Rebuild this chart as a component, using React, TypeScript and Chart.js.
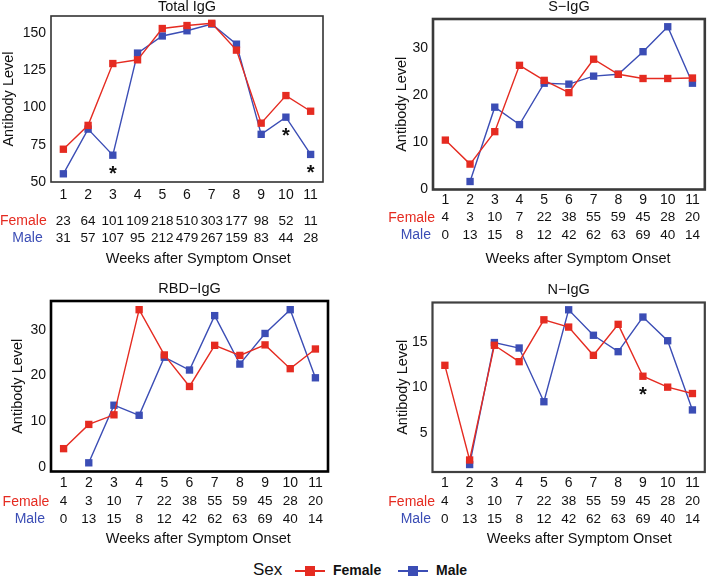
import React, { useEffect, useRef } from "react";
import { Chart, registerables } from "chart.js";

Chart.register(...registerables);

const FONT = '"Liberation Sans", Arial, Helvetica, sans-serif';
const RED = "#E52B21";
const BLUE = "#3B4DB5";

const weeks = ["1", "2", "3", "4", "5", "6", "7", "8", "9", "10", "11"];

// Total IgG
const totalFemale = [72, 88, 129.5, 132, 153, 155, 156.5, 138.5, 89.5, 108, 97.5];
const totalMale = [55.5, 85.5, 68, 136.5, 148, 151.5, 156, 142.5, 82, 93.5, 68.5];
const totalCountFemale = [23, 64, 101, 109, 218, 510, 303, 177, 98, 52, 11];
const totalCountMale = [31, 57, 107, 95, 212, 479, 267, 159, 83, 44, 28];
const totalTicks = [50, 75, 100, 125, 150];
const totalSig = [3, 10, 11];

// S-IgG
const sFemale = [10.5, 5.4, 12.3, 26.4, 23.2, 20.6, 27.7, 24.5, 23.6, 23.6, 23.7];
const sMale = [null, 1.7, 17.5, 13.8, 22.6, 22.4, 24.1, 24.5, 29.3, 34.6, 22.6];
const sTicks = [0, 10, 20, 30];
const sSig: number[] = [];

// RBD-IgG
const rbdFemale = [4.0, 9.3, 11.4, 34.4, 24.5, 17.6, 26.6, 24.4, 26.7, 21.5, 25.8];
const rbdMale = [null, 0.9, 13.5, 11.3, 24.0, 21.2, 33.1, 22.5, 29.2, 34.4, 19.5];
const rbdTicks = [0, 10, 20, 30];
const rbdSig: number[] = [];

// N-IgG
const nFemale = [12.4, 2.0, 14.6, 12.8, 17.4, 16.6, 13.5, 16.9, 11.2, 10.0, 9.3];
const nMale = [null, 1.5, 14.9, 14.3, 8.4, 18.5, 15.7, 13.9, 17.7, 15.1, 7.5];
const nTicks = [5, 10, 15];
const nSig = [9];

// counts shared by S, RBD, N
const subCountFemale = [4, 3, 10, 7, 22, 38, 55, 59, 45, 28, 20];
const subCountMale = [0, 13, 15, 8, 12, 42, 62, 63, 69, 40, 14];

type Panel = {
  key: string;
  title: string;
  female: (number | null)[];
  male: (number | null)[];
  countF: number[];
  countM: number[];
  ticks: number[];
  sig: number[];
  pos: { left: number; top: number; w: number; h: number };
  area: { left: number; right: number; top: number; bottom: number };
  yMin: number;
  yMax: number;
  yTitlePad: number;
  xTickPad: number;
  titleY: number;
  fLabelX: number;
  mLabelX: number;
  fY: number;
  mY: number;
  weeksX: number;
  weeksY: number;
  boxColor: string;
  boxWidth: number;
};

const panels: Panel[] = [
  {
    key: "total", title: "Total IgG", female: totalFemale, male: totalMale,
    countF: totalCountFemale, countM: totalCountMale, ticks: totalTicks, sig: totalSig,
    pos: { left: 0, top: 0, w: 355, h: 270 },
    area: { left: 51, right: 323, top: 16, bottom: 182 },
    yMin: 50, yMax: 161.4, yTitlePad: 0, xTickPad: 5, titleY: 11,
    fLabelX: 46.7, mLabelX: 42.7, fY: 221, mY: 238, weeksX: 198.3, weeksY: 259.3,
    boxColor: "#333333", boxWidth: 1.6,
  },
  {
    key: "s", title: "S\u2212IgG", female: sFemale, male: sMale,
    countF: subCountFemale, countM: subCountMale, ticks: sTicks, sig: sSig,
    pos: { left: 355, top: 0, w: 355, h: 270 },
    area: { left: 78, right: 352.5, top: 19, bottom: 189.5 },
    yMin: 0, yMax: 36.25, yTitlePad: 38, xTickPad: 2.5, titleY: 11,
    fLabelX: 80, mLabelX: 76, fY: 217.7, mY: 235, weeksX: 223, weeksY: 259.3,
    boxColor: "#3a3a3a", boxWidth: 2.6,
  },
  {
    key: "rbd", title: "RBD\u2212IgG", female: rbdFemale, male: rbdMale,
    countF: subCountFemale, countM: subCountMale, ticks: rbdTicks, sig: rbdSig,
    pos: { left: 0, top: 270, w: 355, h: 285 },
    area: { left: 51, right: 328, top: 31, bottom: 201.5 },
    yMin: -1, yMax: 36.3, yTitlePad: 9.4, xTickPad: 2.8, titleY: 22.7,
    fLabelX: 49.3, mLabelX: 45, fY: 231.7, mY: 249, weeksX: 198.3, weeksY: 269,
    boxColor: "#000000", boxWidth: 2.6,
  },
  {
    key: "n", title: "N\u2212IgG", female: nFemale, male: nMale,
    countF: subCountFemale, countM: subCountMale, ticks: nTicks, sig: nSig,
    pos: { left: 355, top: 270, w: 355, h: 285 },
    area: { left: 77.5, right: 351, top: 32.5, bottom: 202 },
    yMin: 0.68, yMax: 19.3, yTitlePad: 39, xTickPad: 2.3, titleY: 24.3,
    fLabelX: 80, mLabelX: 76, fY: 231.7, mY: 249, weeksX: 224.2, weeksY: 269,
    boxColor: "#404040", boxWidth: 2.2,
  },
];

function decorPlugin(p: Panel) {
  return {
    id: "decor_" + p.key,
    beforeDatasetsDraw(chart: any) {
      const { ctx, chartArea: a } = chart;
      ctx.save();
      ctx.strokeStyle = p.boxColor;
      ctx.lineWidth = p.boxWidth;
      ctx.strokeRect(a.left, a.top, a.right - a.left, a.bottom - a.top);
      ctx.restore();
    },
    afterDraw(chart: any) {
      const { ctx, chartArea: a, scales } = chart;
      const xs = scales.x;
      const ys = scales.y;
      ctx.save();
      // title
      ctx.fillStyle = "#111111";
      ctx.font = `14.5px ${FONT}`;
      ctx.textAlign = "center";
      ctx.textBaseline = "alphabetic";
      ctx.fillText(p.title, (a.left + a.right) / 2, p.titleY);
      // row labels
      ctx.font = `14px ${FONT}`;
      ctx.textAlign = "right";
      ctx.textBaseline = "middle";
      ctx.fillStyle = RED;
      ctx.fillText("Female", p.fLabelX, p.fY);
      ctx.fillStyle = BLUE;
      ctx.fillText("Male", p.mLabelX, p.mY);
      // counts
      ctx.fillStyle = "#111111";
      ctx.font = `13.5px ${FONT}`;
      ctx.textAlign = "center";
      weeks.forEach((w, i) => {
        const px = xs.getPixelForValue(i);
        ctx.fillText(String(p.countF[i]), px, p.fY);
        ctx.fillText(String(p.countM[i]), px, p.mY);
      });
      // x title
      ctx.font = `14.5px ${FONT}`;
      ctx.fillText("Weeks after Symptom Onset", p.weeksX, p.weeksY);
      // significance asterisks
      ctx.font = `bold 20px ${FONT}`;
      ctx.textBaseline = "alphabetic";
      p.sig.forEach((wk) => {
        const i = wk - 1;
        const vals = [p.female[i], p.male[i]].filter((v) => v != null) as number[];
        const lowest = Math.min(...vals);
        const py = ys.getPixelForValue(lowest) + 14;
        ctx.fillText("*", xs.getPixelForValue(i), py + 11);
      });
      ctx.restore();
    },
  };
}

function PanelChart({ p }: { p: Panel }) {
  const ref = useRef<HTMLCanvasElement | null>(null);
  useEffect(() => {
    if (!ref.current) return;
    const tickFont = { family: FONT, size: 14 };
    const chart = new Chart(ref.current, {
      type: "line",
      data: {
        labels: weeks,
        datasets: [
          {
            label: "Female",
            data: p.female,
            borderColor: RED,
            backgroundColor: RED,
            borderWidth: 1.4,
            pointStyle: "rect",
            pointRadius: 5.2,
            pointBorderWidth: 0,
            tension: 0,
            clip: false,
          } as any,
          {
            label: "Male",
            data: p.male,
            borderColor: BLUE,
            backgroundColor: BLUE,
            borderWidth: 1.4,
            pointStyle: "rect",
            pointRadius: 5.2,
            pointBorderWidth: 0,
            tension: 0,
            clip: false,
          } as any,
        ],
      },
      options: {
        responsive: false,
        animation: false,
        events: [],
        layout: {
          padding: { top: p.area.top, left: 0, right: p.pos.w - p.area.right, bottom: 0 },
        },
        plugins: {
          legend: { display: false },
          tooltip: { enabled: false },
          title: { display: false },
        },
        scales: {
          x: {
            type: "category",
            offset: true,
            grid: { display: false, drawTicks: false },
            border: { display: false },
            ticks: { font: tickFont, color: "#111111", padding: p.xTickPad, autoSkip: false, maxRotation: 0 },
            afterFit: (s: any) => {
              s.height = p.pos.h - p.area.bottom;
            },
          },
          y: {
            type: "linear",
            min: p.yMin,
            max: p.yMax,
            grid: { display: false, drawTicks: false },
            border: { display: false },
            ticks: { font: tickFont, color: "#111111", padding: 5 },
            afterBuildTicks: (s: any) => {
              s.ticks = p.ticks.map((v) => ({ value: v }));
            },
            title: {
              display: true,
              text: "Antibody Level",
              color: "#111111",
              font: { family: FONT, size: 14.5 },
              padding: { top: p.yTitlePad, bottom: 0 },
            },
            afterFit: (s: any) => {
              s.width = p.area.left;
            },
          },
        },
      } as any,
      plugins: [decorPlugin(p)],
    });
    return () => chart.destroy();
  }, [p]);
  return (
    <canvas
      ref={ref}
      width={p.pos.w}
      height={p.pos.h}
      style={{ position: "absolute", left: p.pos.left, top: p.pos.top, width: p.pos.w, height: p.pos.h }}
    />
  );
}

function LegendKey({ left, color, label }: { left: number; color: string; label: string }) {
  return (
    <>
      <div style={{ position: "absolute", left, top: 569.5, width: 30, height: 2.6, background: color }} />
      <div style={{ position: "absolute", left: left + 10, top: 565.5, width: 10, height: 10, background: color }} />
      <div
        style={{
          position: "absolute",
          left: left + 38,
          top: 561,
          fontFamily: FONT,
          fontWeight: "bold",
          fontSize: 14,
          lineHeight: "18px",
          color: "#111",
          whiteSpace: "nowrap",
        }}
      >
        {label}
      </div>
    </>
  );
}

export default function App() {
  return (
    <div style={{ position: "absolute", left: 0, top: 0, width: 710, height: 577, background: "#fff", overflow: "hidden" }}>
      {panels.map((p) => (
        <PanelChart key={p.key} p={p} />
      ))}
      <div
        style={{
          position: "absolute",
          left: 253,
          top: 559,
          fontFamily: FONT,
          fontSize: 17,
          lineHeight: "22px",
          color: "#111",
        }}
      >
        Sex
      </div>
      <LegendKey left={295} color={RED} label="Female" />
      <LegendKey left={398} color={BLUE} label="Male" />
    </div>
  );
}
